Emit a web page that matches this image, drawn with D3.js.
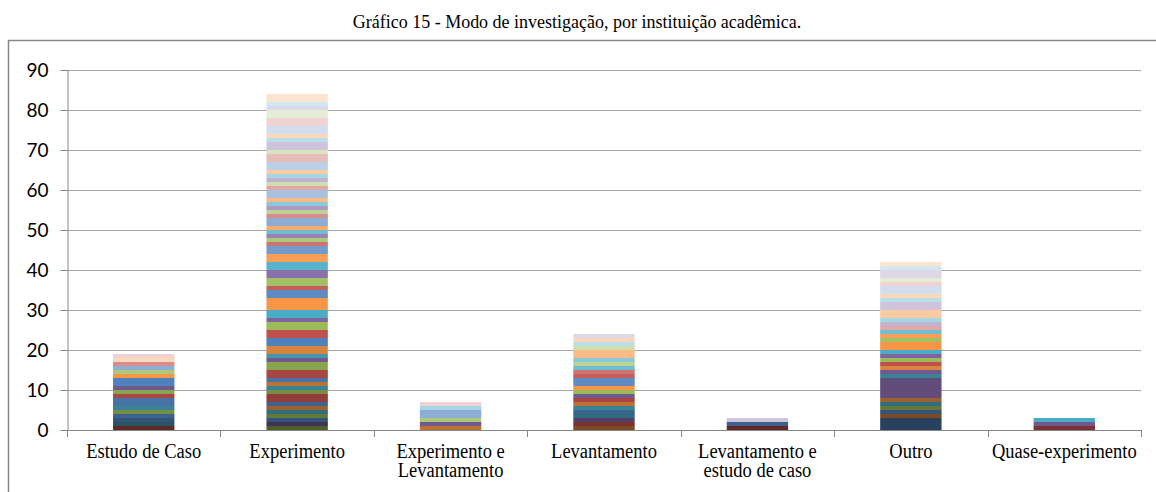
<!DOCTYPE html>
<html>
<head>
<meta charset="utf-8">
<script src="https://cdn.jsdelivr.net/npm/d3@7.9.0/dist/d3.min.js"></script>
<style>
  body { margin: 0; background: #fff; }
  svg { display: block; }
</style>
</head>
<body>
<svg id="chart" width="1156" height="492"></svg>
<script>
// categories (x axis), two-line labels split on "\n"
const categories = [
  'Estudo de Caso',
  'Experimento',
  'Experimento e\nLevantamento',
  'Levantamento',
  'Levantamento e\nestudo de caso',
  'Outro',
  'Quase-experimento'
];

const yTicks = [0, 10, 20, 30, 40, 50, 60, 70, 80, 90];

// one value per institution (66 series), grouped by 6 per line
const estudoCaso = [
  0,1,0,0,1,0, 1,0,0,0,0,0, 1,0,1,0,1,0, 2,1,1,1,0,0, 2,0,0,0,0,1, 0,0,0,0,0,0,
  0,0,1,0,0,0, 1,1,0,0,0,0, 0,0,0,0,0,0, 0,0,0,0,0,1, 0,1,0,0,0,0
];
const experimento = [
  0,0,1,1,0,0, 1,0,1,0,1,1, 1,2,1,0,1,1, 1,2,2,1,1,2, 2,2,2,1,2,3, 2,1,2,2,2,2,
  2,1,1,1,1,1, 2,1,1,1,1,1, 2,1,1,1,1,1, 2,2,1,2,1,1, 2,2,2,1,1,2
];
const experimentoLevantamento = [
  0,0,0,0,0,0, 0,0,0,0,0,0, 0,0,0,0,0,1, 0,0,0,1,0,0, 0,0,0,0,0,0, 0,0,0,0,0,0,
  0,0,1,0,0,0, 2,0,0,0,0,0, 0,0,0,0,1,0, 0,0,0,0,0,0, 0,1,0,0,0,0
];
const levantamento = [
  0,0,0,0,0,1, 0,1,0,1,1,0, 1,0,0,0,1,1, 0,1,0,1,0,0, 0,0,1,0,0,1, 2,1,0,0,0,0,
  0,1,0,0,1,0, 0,0,1,0,1,2, 0,0,1,0,0,0, 0,0,0,0,1,1, 0,0,0,1,0,0
];
const levantamentoEstudo = [
  0,1,0,0,0,0, 0,0,0,0,0,0, 1,0,0,0,0,0, 0,0,0,0,0,0, 0,0,0,0,0,0, 0,0,0,0,0,0,
  0,0,0,0,0,0, 0,0,0,0,0,0, 0,0,0,0,0,0, 0,0,0,1,0,0, 0,0,0,0,0,0
];
const outro = [
  3,0,0,0,0,1, 1,0,1,0,1,1, 0,0,0,5,1,0, 0,0,0,1,0,1, 0,1,1,1,1,2, 0,0,1,0,0,1,
  0,0,0,0,1,0, 0,0,0,0,0,0, 0,1,0,1,1,2, 0,0,0,2,1,1, 2,1,1,2,1,1
];
const quaseExperimento = [
  0,0,0,0,0,0, 0,1,0,0,0,0, 0,0,0,0,0,0, 0,0,0,1,0,0, 0,0,0,0,1,0, 0,0,0,0,0,0,
  0,0,0,0,0,0, 0,0,0,0,0,0, 0,0,0,0,0,0, 0,0,0,0,0,0, 0,0,0,0,0,0
];

const columns = [estudoCaso, experimento, experimentoLevantamento, levantamento,
                 levantamentoEstudo, outro, quaseExperimento];
const nSeries = experimento.length;
const keys = d3.range(nSeries).map(i => 'Instituição ' + (i + 1));

// build table for d3.stack
const table = categories.map((c, ci) => {
  const row = { category: c };
  keys.forEach((k, si) => { row[k] = columns[ci][si]; });
  return row;
});

// Excel-like palette: 6 accent hues, darker shades first, lighter tints last
const baseHues = ['#4F81BD', '#C0504D', '#9BBB59', '#8064A2', '#4BACC6', '#F79646'];
const levels = [-0.5, -0.36, -0.24, -0.12, 0, 0.08, 0.2, 0.35, 0.5, 0.62, 0.74];
const seriesColor = i => {
  const base = baseHues[i % 6];
  const t = levels[Math.floor(i / 6)];
  return t < 0 ? d3.interpolateRgb(base, '#000')(-t) : d3.interpolateRgb(base, '#fff')(t);
};

const svg = d3.select('#chart');
const serif = '"Liberation Serif", "Times New Roman", serif';

// title (the original font renders a bit taller than Liberation Serif)
svg.append('text')
  .attr('transform', 'translate(577,28) scale(1,1.1)')
  .attr('text-anchor', 'middle')
  .attr('font-family', serif)
  .attr('font-size', 18)
  .attr('fill', '#000')
  .text('Gráfico 15 - Modo de investigação, por instituição acadêmica.');

// chart border
svg.append('rect')
  .attr('x', 8.5).attr('y', 40.5)
  .attr('width', 1160).attr('height', 470)
  .attr('fill', 'none')
  .attr('stroke', '#868686')
  .attr('stroke-width', 1.5);

const plotLeft = 67, plotRight = 1141, plotTop = 70, plotBottom = 430;

const x = d3.scaleBand().domain(categories).range([plotLeft, plotRight]).paddingInner(0.6).paddingOuter(0.3);
const band = d3.scaleBand().domain(categories).range([plotLeft, plotRight]);
const y = d3.scaleLinear().domain([0, 90]).range([plotBottom, plotTop]);

// gridlines
svg.append('g')
  .selectAll('line')
  .data(yTicks.filter(d => d > 0))
  .join('line')
  .attr('x1', plotLeft).attr('x2', plotRight)
  .attr('y1', d => Math.round(y(d)) + 0.5).attr('y2', d => Math.round(y(d)) + 0.5)
  .attr('stroke', '#a6a6a6');

// stacked bars
const stacked = d3.stack().keys(keys)(table);
svg.append('g')
  .selectAll('g')
  .data(stacked)
  .join('g')
  .attr('fill', (d, i) => seriesColor(i))
  .selectAll('rect')
  .data(d => d.filter(p => p[1] > p[0]))
  .join('rect')
  .attr('x', d => x(d.data.category))
  .attr('width', x.bandwidth())
  .attr('y', d => y(d[1]))
  .attr('height', d => y(d[0]) - y(d[1]));

// y axis
const yAxis = svg.append('g')
  .attr('transform', `translate(${plotLeft + 0.5},0)`)
  .call(d3.axisLeft(y).tickValues(yTicks).tickSize(7).tickPadding(12));
yAxis.select('.domain').attr('stroke', '#868686');
yAxis.selectAll('.tick line').attr('stroke', '#868686');
yAxis.selectAll('.tick text')
  .attr('font-family', 'Lato, "Liberation Sans", sans-serif')
  .attr('font-size', 19)
  .attr('fill', '#000');

// x axis
const xg = svg.append('g');
xg.append('line')
  .attr('x1', plotLeft).attr('x2', plotRight)
  .attr('y1', plotBottom + 0.5).attr('y2', plotBottom + 0.5)
  .attr('stroke', '#868686');
xg.selectAll('line.tk')
  .data(d3.range(categories.length + 1))
  .join('line')
  .attr('class', 'tk')
  .attr('x1', i => Math.round(plotLeft + i * band.bandwidth()) + 0.5)
  .attr('x2', i => Math.round(plotLeft + i * band.bandwidth()) + 0.5)
  .attr('y1', plotBottom).attr('y2', plotBottom + 7)
  .attr('stroke', '#868686');

const labels = xg.selectAll('text')
  .data(categories)
  .join('text')
  .attr('transform', d => `translate(${band(d) + band.bandwidth() / 2},457.5) scale(1,1.08)`)
  .attr('text-anchor', 'middle')
  .attr('font-family', serif)
  .attr('font-size', 18.5)
  .attr('fill', '#000');
labels.each(function(d) {
  d.split('\n').forEach((line, i) => {
    d3.select(this).append('tspan')
      .attr('x', 0)
      .attr('dy', i === 0 ? 0 : 18.5)
      .text(line);
  });
});
</script>
</body>
</html>
